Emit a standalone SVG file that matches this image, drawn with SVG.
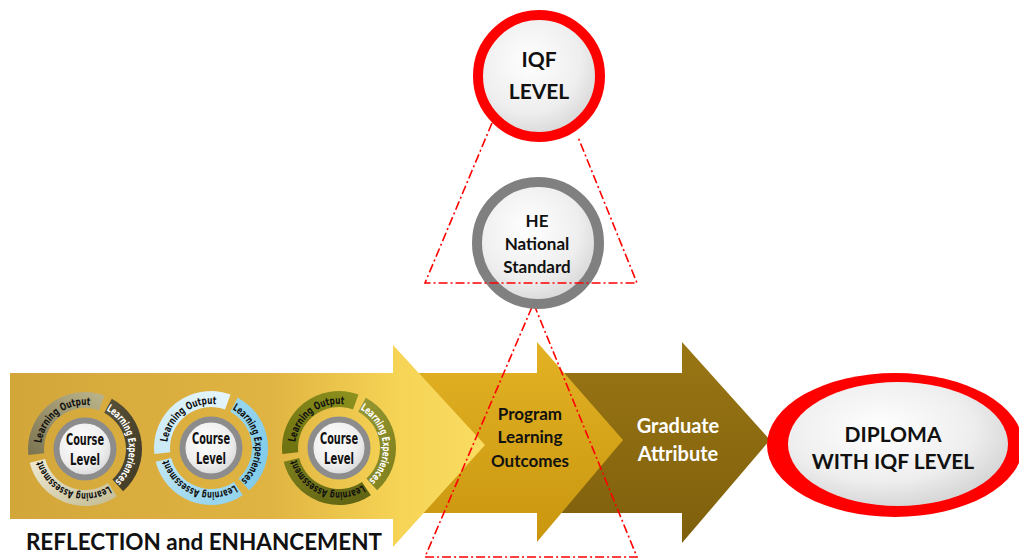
<svg xmlns="http://www.w3.org/2000/svg" width="1019" height="560" viewBox="0 0 1019 560">
<style>
.t{font-family:Lato,"Liberation Sans",sans-serif;font-weight:700;text-anchor:middle;fill:#111}
.c{font-family:"DejaVu Sans Condensed","DejaVu Sans",sans-serif;font-weight:700}
.arc{font-size:10.5px}
.lvl{font-size:15px;text-anchor:middle;fill:#111}
.dash{fill:none;stroke:#FF0000;stroke-width:1.6;stroke-dasharray:9 3 2 3}
</style>
<defs>
<radialGradient id="wg" cx="0.42" cy="0.38" r="0.7">
<stop offset="0" stop-color="#ffffff"/><stop offset="0.6" stop-color="#eeeeee"/><stop offset="1" stop-color="#cfcfcf"/>
</radialGradient>
<linearGradient id="a1" x1="0" y1="0" x2="1" y2="0">
<stop offset="0" stop-color="#D3A63A"/><stop offset="0.55" stop-color="#E0B442"/><stop offset="0.82" stop-color="#F6D455"/><stop offset="1" stop-color="#F9DC62"/>
</linearGradient>
<linearGradient id="a2" x1="0" y1="0" x2="0" y2="1">
<stop offset="0" stop-color="#E3B224"/><stop offset="1" stop-color="#C9960E"/>
</linearGradient>
<linearGradient id="a3" x1="0" y1="0" x2="0" y2="1">
<stop offset="0" stop-color="#9A7614"/><stop offset="1" stop-color="#7E5F0C"/>
</linearGradient>
<linearGradient id="c1o" x1="0" y1="1" x2="1" y2="0"><stop offset="0" stop-color="#7a7350"/><stop offset="1" stop-color="#bdb68c"/></linearGradient>
<linearGradient id="c1e" x1="0" y1="0" x2="1" y2="1"><stop offset="0" stop-color="#5a5238"/><stop offset="1" stop-color="#3f3a26"/></linearGradient>
<linearGradient id="c1a" x1="1" y1="1" x2="0" y2="0"><stop offset="0" stop-color="#c2bb93"/><stop offset="1" stop-color="#efebd4"/></linearGradient>
<linearGradient id="c2o" x1="0" y1="1" x2="1" y2="0"><stop offset="0" stop-color="#c8e9f6"/><stop offset="1" stop-color="#e6f6fb"/></linearGradient>
<linearGradient id="c2e" x1="0" y1="0" x2="1" y2="1"><stop offset="0" stop-color="#9cd8f0"/><stop offset="1" stop-color="#7cc9e8"/></linearGradient>
<linearGradient id="c2a" x1="1" y1="1" x2="0" y2="0"><stop offset="0" stop-color="#8fd1ec"/><stop offset="1" stop-color="#c3e8f5"/></linearGradient>
<linearGradient id="c3o" x1="0" y1="1" x2="1" y2="0"><stop offset="0" stop-color="#6c700f"/><stop offset="1" stop-color="#8e921e"/></linearGradient>
<linearGradient id="c3e" x1="0" y1="0" x2="1" y2="1"><stop offset="0" stop-color="#979a34"/><stop offset="1" stop-color="#7c7e1c"/></linearGradient>
<linearGradient id="c3a" x1="1" y1="1" x2="0" y2="0"><stop offset="0" stop-color="#5e6112"/><stop offset="1" stop-color="#7d801c"/></linearGradient>
<path id="segOut" d="M -56.69 5.96 A 57 57 0 0 1 19.49 -53.56 L 14.02 -38.53 A 41 41 0 0 0 -40.77 4.28 Z"/>
<path id="segExp" d="M 26.76 -50.33 A 57 57 0 0 1 38.14 42.36 L 27.43 30.47 A 41 41 0 0 0 19.25 -36.20 Z"/>
<path id="segAss" d="M 31.87 47.25 A 57 57 0 0 1 -55.31 13.79 L -39.78 9.92 A 41 41 0 0 0 22.93 33.99 Z"/>
<path id="tpOut" d="M -43.76 4.60 A 44 44 0 0 1 15.05 -41.35"/>
<path id="tpExp" d="M 20.66 -38.85 A 44 44 0 0 1 29.44 32.70"/>
<path id="tpAss" d="M 24.60 36.48 A 44 44 0 0 1 -42.69 10.64"/>
</defs>
<rect width="1019" height="560" fill="#ffffff"/>

<g id="arrow-graduate">
<polygon points="480,373 682,373 682,342 770,440 682,543 682,513 480,513" fill="url(#a3)"/>
<text class="t" x="678" y="433" font-size="20" style="fill:#ffffff">Graduate</text>
<text class="t" x="678" y="461" font-size="20" style="fill:#ffffff">Attribute</text>
</g>
<g id="arrow-plo">
<polygon points="300,373 537,373 537,342 623,440 537,542 537,513 300,513" fill="url(#a2)"/>
<text class="t" x="530" y="420" font-size="17">Program</text>
<text class="t" x="530" y="443" font-size="17">Learning</text>
<text class="t" x="530" y="467" font-size="17">Outcomes</text>
</g>
<g id="arrow-reflection">
<polygon points="10,373 393,373 393,345 485,445 393,547 393,519 10,519" fill="url(#a1)"/>
<text class="t" x="204" y="550" font-size="22.5">REFLECTION and ENHANCEMENT</text>
</g>

<g id="course1" transform="translate(85,449)">
<use href="#segOut" fill="url(#c1o)"/>
<use href="#segExp" fill="url(#c1e)"/>
<use href="#segAss" fill="url(#c1a)"/>
<circle r="28.5" fill="url(#wg)" stroke="#8c8c8c" stroke-width="6"/>
<text class="c arc" fill="#111"><textPath href="#tpOut" startOffset="50%" text-anchor="middle" textLength="68" lengthAdjust="spacingAndGlyphs">Learning Output</textPath></text>
<text class="c arc" fill="#ffffff"><textPath href="#tpExp" startOffset="50%" text-anchor="middle" textLength="83" lengthAdjust="spacingAndGlyphs">Learning Experiences</textPath></text>
<text class="c arc" fill="#111"><textPath href="#tpAss" startOffset="50%" text-anchor="middle" textLength="82" lengthAdjust="spacingAndGlyphs">Learning Assessment</textPath></text>
<text class="c lvl" y="-4" textLength="38" lengthAdjust="spacingAndGlyphs">Course</text>
<text class="c lvl" y="16" textLength="30" lengthAdjust="spacingAndGlyphs">Level</text>
</g>
<g id="course2" transform="translate(211,448)">
<use href="#segOut" fill="url(#c2o)"/>
<use href="#segExp" fill="url(#c2e)"/>
<use href="#segAss" fill="url(#c2a)"/>
<circle r="28.5" fill="url(#wg)" stroke="#8c8c8c" stroke-width="6"/>
<text class="c arc" fill="#111"><textPath href="#tpOut" startOffset="50%" text-anchor="middle" textLength="68" lengthAdjust="spacingAndGlyphs">Learning Output</textPath></text>
<text class="c arc" fill="#111"><textPath href="#tpExp" startOffset="50%" text-anchor="middle" textLength="83" lengthAdjust="spacingAndGlyphs">Learning Experiences</textPath></text>
<text class="c arc" fill="#111"><textPath href="#tpAss" startOffset="50%" text-anchor="middle" textLength="82" lengthAdjust="spacingAndGlyphs">Learning Assessment</textPath></text>
<text class="c lvl" y="-4" textLength="38" lengthAdjust="spacingAndGlyphs">Course</text>
<text class="c lvl" y="16" textLength="30" lengthAdjust="spacingAndGlyphs">Level</text>
</g>
<g id="course3" transform="translate(339,448)">
<use href="#segOut" fill="url(#c3o)"/>
<use href="#segExp" fill="url(#c3e)"/>
<use href="#segAss" fill="url(#c3a)"/>
<circle r="28.5" fill="url(#wg)" stroke="#8c8c8c" stroke-width="6"/>
<text class="c arc" fill="#111"><textPath href="#tpOut" startOffset="50%" text-anchor="middle" textLength="68" lengthAdjust="spacingAndGlyphs">Learning Output</textPath></text>
<text class="c arc" fill="#ffffff"><textPath href="#tpExp" startOffset="50%" text-anchor="middle" textLength="83" lengthAdjust="spacingAndGlyphs">Learning Experiences</textPath></text>
<text class="c arc" fill="#111"><textPath href="#tpAss" startOffset="50%" text-anchor="middle" textLength="82" lengthAdjust="spacingAndGlyphs">Learning Assessment</textPath></text>
<text class="c lvl" y="-4" textLength="38" lengthAdjust="spacingAndGlyphs">Course</text>
<text class="c lvl" y="16" textLength="30" lengthAdjust="spacingAndGlyphs">Level</text>
</g>

<g id="diploma">
<ellipse cx="895" cy="445" rx="128" ry="72" fill="#FF0000"/>
<ellipse cx="898" cy="444" rx="110" ry="62" fill="url(#wg)"/>
<text class="t" x="893" y="442" font-size="21">DIPLOMA</text>
<text class="t" x="893" y="469" font-size="21">WITH IQF LEVEL</text>
</g>

<g id="connectors-lower">
<polyline class="dash" points="532,307 425,557 637,557 535,307"/>
</g>

<g id="he-standard">
<circle cx="538" cy="243" r="61" fill="url(#wg)" stroke="#808080" stroke-width="10"/>
<text class="t" x="537" y="227" font-size="17">HE</text>
<text class="t" x="537" y="250" font-size="17">National</text>
<text class="t" x="537" y="273" font-size="17">Standard</text>
</g>

<g id="connectors">
<polyline class="dash" points="492,123 425,283 637,283 578,137"/>
</g>

<g id="iqf-level">
<circle cx="539" cy="76" r="61" fill="url(#wg)" stroke="#FF0000" stroke-width="10"/>
<text class="t" x="539" y="67" font-size="21">IQF</text>
<text class="t" x="539" y="99" font-size="21">LEVEL</text>
</g>
</svg>
